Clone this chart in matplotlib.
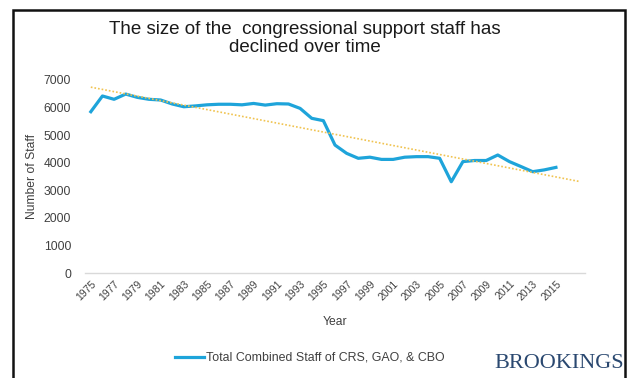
import numpy as np
import matplotlib.pyplot as plt
from matplotlib.patches import Rectangle
from matplotlib.lines import Line2D

# Combined staff of CRS, GAO and CBO, 1975-2015
years = list(range(1975, 2016))
staff = [5850, 6420, 6300, 6490, 6370, 6300, 6275, 6130, 6030, 6060,
         6100, 6120, 6120, 6100, 6150, 6090, 6140, 6130, 5970, 5610,
         5525, 4640, 4340, 4160, 4200, 4120, 4120, 4200, 4220, 4220,
         4160, 3310, 4040, 4080, 4080, 4280, 4040, 3860, 3675, 3740,
         3830]
forecast = 2  # trend line runs two periods past the data

plt.rcParams['font.family'] = ['Liberation Sans', 'DejaVu Sans']

fig = plt.figure(figsize=(6.29, 3.78), dpi=100)
ax = fig.add_axes([85 / 629, 1 - 273 / 378, 500 / 629, 193 / 378])

x = np.arange(len(years))
ax.plot(x, staff, color='#1ea4da', lw=2.3, solid_joinstyle='round')

# linear trend
k, b = np.polyfit(x, staff, 1)
xt = np.array([0, len(years) - 1 + forecast])
ax.plot(xt, k * xt + b, color='#f0c350', lw=1.2, ls=(0, (1, 1.2)))

ax.set_xlim(-0.5, len(years) - 0.5 + forecast)
ax.set_ylim(0, 7000)
ax.set_yticks(range(0, 7001, 1000))
ax.set_xticks(x[::2])
ax.set_xticklabels([str(y) for y in years[::2]], rotation=45,
                   ha='right', rotation_mode='anchor', fontsize=7.5, color='#404040')
ax.tick_params(axis='y', length=0, labelsize=8.7, labelcolor='#404040', pad=10)
ax.tick_params(axis='x', length=0, pad=4)
for s in ['top', 'right', 'left']:
    ax.spines[s].set_visible(False)
ax.spines['bottom'].set_color('#d9d9d9')
ax.spines['bottom'].set_linewidth(1)

ax.set_xlabel('Year', fontsize=8.7, color='#404040', labelpad=10)
ax.set_ylabel('Number of Staff', fontsize=8.7, color='#404040', labelpad=4)

fig.text(305 / 629, 1 - 30 / 378, 'The size of the  congressional support staff has',
         ha='center', va='center', fontsize=13.5, color='#1a1a1a')
fig.text(305 / 629, 1 - 48 / 378, 'declined over time',
         ha='center', va='center', fontsize=13.5, color='#1a1a1a')

# legend
fig.add_artist(Line2D([175 / 629, 204 / 629], [1 - 357 / 378, 1 - 357 / 378],
                      color='#1ea4da', lw=2.3))
fig.text(206 / 629, 1 - 357 / 378, 'Total Combined Staff of CRS, GAO, & CBO',
         ha='left', va='center', fontsize=8.9, color='#404040')

fig.text(494 / 629, 1 - 368 / 378, 'BROOKINGS', ha='left', va='baseline',
         fontsize=16, color='#2a4870', family='Liberation Serif')

# outer frame
fig.add_artist(Rectangle((13 / 629, -0.1), (625 - 13) / 629, 1.1 - 10 / 378,
                         transform=fig.transFigure, fill=False,
                         ec='#111111', lw=1.8, zorder=10))

fig.savefig('out.png', dpi=100, facecolor='white')
